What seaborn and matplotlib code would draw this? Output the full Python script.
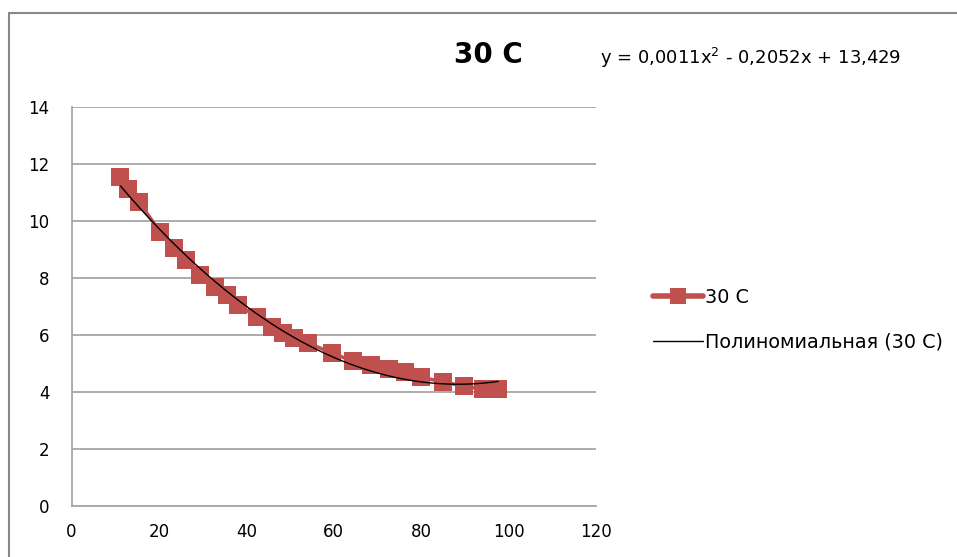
import numpy as np
import pandas as pd
import matplotlib
matplotlib.use("Agg")
import matplotlib.pyplot as plt
from matplotlib.lines import Line2D
import seaborn as sns

# Data
x_vals = [11.2, 12.9, 15.4, 20.3, 23.4, 26.3, 29.3, 32.8, 35.5, 38.2, 42.4, 45.8, 48.5,
          50.8, 54.2, 59.5, 64.3, 68.5, 72.6, 76.3, 80.0, 84.9, 89.9, 94.2, 97.6]
y_vals = [11.53, 11.13, 10.66, 9.61, 9.03, 8.62, 8.09, 7.69, 7.39, 7.04, 6.64, 6.29, 6.06,
          5.88, 5.71, 5.37, 5.08, 4.95, 4.81, 4.69, 4.52, 4.35, 4.20, 4.10, 4.10]
series_name = "30 C"
trend_name = "Полиномиальная (30 C)"
equation = "y = 0,0011x$^2$ - 0,2052x + 13,429"
x_ticks = [0, 20, 40, 60, 80, 100, 120]
y_ticks = [0, 2, 4, 6, 8, 10, 12, 14]

df = pd.DataFrame({"x": x_vals, "y": y_vals})

sns.set_style("white")
plt.rcParams['font.family'] = ['DejaVu Sans']
plt.rcParams['text.color'] = 'black'

fig = plt.figure(figsize=(9.57, 5.57), dpi=100)
ax = fig.add_axes([71.5/957, 1-506/557, (596-71.5)/957, (506-106.7)/557])

red = "#C0504D"
grid_c = "#A6A6A6"

sns.lineplot(data=df, x="x", y="y", ax=ax, color=red, marker="s", markersize=13.5,
             markeredgewidth=0, linewidth=2.5, zorder=3, legend=False)

# polynomial trendline (2nd order) fitted to the data
coef = np.polyfit(df["x"], df["y"], 2)
xx = np.linspace(df["x"].min(), df["x"].max(), 200)
ax.plot(xx, np.polyval(coef, xx), color="black", linewidth=1.0, zorder=4)

ax.set_xlim(0, 120)
ax.set_ylim(0, 14)
ax.set_xticks(x_ticks)
ax.set_yticks(y_ticks)
ax.set_xlabel("")
ax.set_ylabel("")
ax.yaxis.grid(True, color=grid_c, linewidth=1.3)
ax.xaxis.grid(False)
for s in ["top", "right"]:
    ax.spines[s].set_visible(False)
for s in ["left", "bottom"]:
    ax.spines[s].set_color(grid_c)
    ax.spines[s].set_linewidth(1.3)
ax.tick_params(axis="both", direction="out", length=6, width=1.3, color=grid_c,
               labelsize=12, labelcolor="black", pad=6)
ax.tick_params(axis="y", pad=10)

fig.text(488/957, 1-55/557, series_name, fontsize=20, fontweight="bold",
         ha="center", va="center", color="black")
fig.text(600/957, 1-58/557, equation, fontsize=13, ha="left", va="center",
         color="black")

handles = [Line2D([0], [0], color=red, marker="s", markersize=11, linewidth=4,
                  markeredgewidth=0),
           Line2D([0], [0], color="black", linewidth=1.0)]
leg = fig.legend(handles, [series_name, trend_name], loc="center left",
                 bbox_to_anchor=(636/957, 1-320/557), frameon=False, fontsize=13.8,
                 handlelength=2.6, handletextpad=0.1, labelspacing=1.35)
for t in leg.get_texts():
    t.set_color("black")

# outer chart border (left and top)
fig.add_artist(Line2D([8.5/957, 8.5/957], [0, 1-12.5/557], transform=fig.transFigure,
                      color="#888888", linewidth=1.5))
fig.add_artist(Line2D([8.5/957, 1], [1-12.5/557, 1-12.5/557], transform=fig.transFigure,
                      color="#888888", linewidth=1.5))

fig.savefig("out.png", dpi=100)
